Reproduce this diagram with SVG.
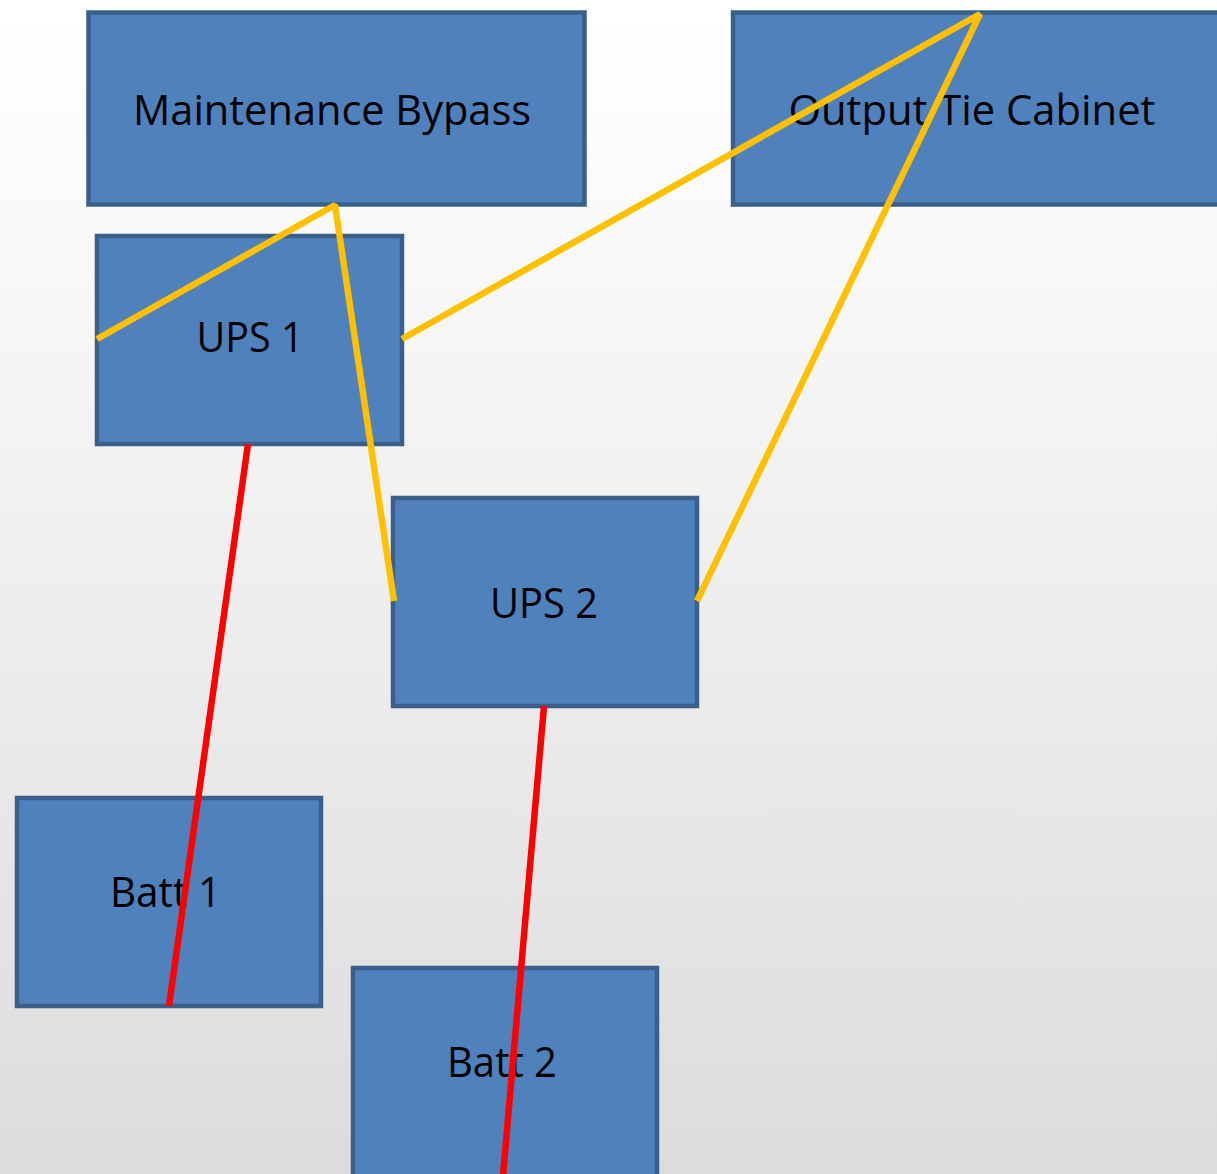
<svg xmlns="http://www.w3.org/2000/svg" width="1217" height="1174" viewBox="0 0 1217 1174">
<defs>
<linearGradient id="bg" x1="0" y1="0" x2="0" y2="1">
<stop offset="0" stop-color="#FFFFFF"/>
<stop offset="0.15" stop-color="#FBFBFB"/>
<stop offset="1" stop-color="#DCDCDC"/>
</linearGradient>
<style>
.box{fill:#4F81BD;stroke:#3A5F8B;stroke-width:4.5}
.lbl{font-family:"Open Sans","Liberation Sans",sans-serif;font-size:42px;fill:#000;text-anchor:middle}
.y{fill:none;stroke:#FFC000;stroke-width:6.5;stroke-linejoin:bevel}
.r{fill:none;stroke:#FF0000;stroke-width:6.5}
</style>
</defs>
<rect x="0" y="0" width="1217" height="1174" fill="url(#bg)"/>
<g id="maintenance-bypass">
<rect class="box" x="88.5" y="12.5" width="496" height="192"/>
<text class="lbl" x="332" y="125" textLength="398" lengthAdjust="spacingAndGlyphs">Maintenance Bypass</text>
</g>
<g id="output-tie-cabinet">
<rect class="box" x="733" y="12.5" width="500" height="192"/>
<text class="lbl" x="972" y="125" textLength="367" lengthAdjust="spacingAndGlyphs">Output Tie Cabinet</text>
</g>
<g id="ups1">
<rect class="box" x="97" y="236" width="305" height="208"/>
<text class="lbl" x="250" y="352" textLength="107" lengthAdjust="spacingAndGlyphs">UPS 1</text>
</g>
<g id="ups2">
<rect class="box" x="393" y="498" width="304" height="208"/>
<text class="lbl" x="544" y="618" textLength="108" lengthAdjust="spacingAndGlyphs">UPS 2</text>
</g>
<g id="batt1">
<rect class="box" x="17" y="798" width="304" height="208"/>
<text class="lbl" x="165.5" y="907" textLength="111" lengthAdjust="spacingAndGlyphs">Batt 1</text>
</g>
<g id="batt2">
<rect class="box" x="353" y="968" width="304" height="230"/>
<text class="lbl" x="502" y="1077" textLength="110" lengthAdjust="spacingAndGlyphs">Batt 2</text>
</g>
<g id="connectors">
<polyline class="y" points="97,339 335,205 394,601"/>
<polyline class="y" points="402,339 980,14 697,601"/>
<line class="r" x1="248" y1="444" x2="169" y2="1006"/>
<line class="r" x1="544" y1="706" x2="503" y2="1176"/>
</g>
</svg>
